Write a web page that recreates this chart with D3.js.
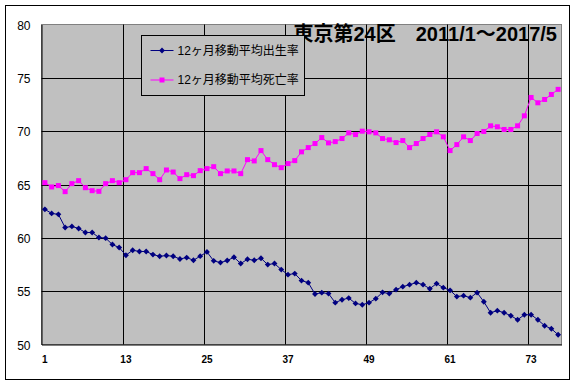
<!DOCTYPE html>
<html>
<head>
<meta charset="utf-8">
<script src="https://cdn.jsdelivr.net/npm/d3@7"></script>
<style>
  body { margin: 0; background: #fff; }
  svg text { font-family: "Liberation Sans", Arial, "Noto Sans CJK JP", sans-serif; }
</style>
</head>
<body>
<div id="chart"></div>
<script>
// months 1..77 (2011/1 - 2017/5)
var months = d3.range(1, 78);
var xTicks = [1, 13, 25, 37, 49, 61, 73];
var yTicks = [50, 55, 60, 65, 70, 75, 80];

var birthRate = [62.67, 62.29, 62.2, 60.97, 61.07, 60.88, 60.5, 60.5, 60.03, 59.97,
    59.37, 59.09, 58.37, 58.84, 58.72, 58.72, 58.43, 58.27, 58.34, 58.27,
    58.02, 58.15, 57.9, 58.28, 58.68, 57.84, 57.68, 57.87, 58.18, 57.59,
    57.99, 57.9, 58.09, 57.49, 57.59, 57.02, 56.55, 56.65, 55.99, 55.8,
    54.73, 54.86, 54.77, 53.92, 54.2, 54.35, 53.85, 53.73, 53.92, 54.3,
    54.89, 54.77, 55.14, 55.42, 55.61, 55.8, 55.61, 55.23, 55.71, 55.33,
    55.08, 54.49, 54.58, 54.39, 54.86, 54.01, 52.98, 53.17, 52.98, 52.7,
    52.32, 52.79, 52.79, 52.32, 51.76, 51.48, 50.91];

var deathRate = [65.17, 64.77, 64.9, 64.33, 65.08, 65.36, 64.7, 64.42, 64.36, 65.08,
    65.36, 65.17, 65.45, 66.11, 66.11, 66.49, 66.02, 65.45, 66.36, 66.17,
    65.55, 65.92, 65.83, 66.3, 66.49, 66.67, 66.02, 66.27, 66.27, 66.02,
    67.33, 67.21, 68.18, 67.33, 66.86, 66.58, 66.96, 67.24, 68.06, 68.46,
    68.84, 69.4, 68.9, 69.02, 69.31, 69.84, 69.68, 70.0, 69.94, 69.84,
    69.31, 69.19, 68.93, 69.12, 68.46, 68.84, 69.31, 69.69, 69.94, 69.47,
    68.18, 68.74, 69.47, 69.12, 69.78, 69.97, 70.5, 70.41, 70.16, 70.16,
    70.5, 71.44, 73.16, 72.66, 72.97, 73.44, 73.92];

var seriesNames = ["12ヶ月移動平均出生率", "12ヶ月移動平均死亡率"];
var seriesColors = ["#000080", "#FF00FF"];
var title = "東京第24区　2011/1～2017/5";

var W = 576, H = 385;
var plot = { left: 41.5, right: 561.5, top: 24.5, bottom: 344.5 };

var svg = d3.select("#chart").append("svg")
    .attr("width", W)
    .attr("height", H);

// outer frame
svg.append("rect")
    .attr("x", 5.5).attr("y", 5.5)
    .attr("width", 564).attr("height", 374)
    .attr("fill", "#fff")
    .attr("stroke", "#000");

var x = d3.scaleBand()
    .domain(months)
    .range([plot.left, plot.right])
    .padding(0);
var cx = function(i) { return x(i) + x.bandwidth() / 2; };

var y = d3.scaleLinear()
    .domain([50, 80])
    .range([plot.bottom, plot.top]);

// plot background
svg.append("rect")
    .attr("x", plot.left).attr("y", plot.top)
    .attr("width", plot.right - plot.left)
    .attr("height", plot.bottom - plot.top)
    .attr("fill", "#C0C0C0")
    .attr("stroke", "#808080");

// horizontal gridlines
svg.append("g").selectAll("line")
    .data(yTicks.slice(1, -1))
    .enter().append("line")
    .attr("x1", plot.left).attr("x2", plot.right)
    .attr("y1", function(d) { return Math.round(y(d)) + 0.5; })
    .attr("y2", function(d) { return Math.round(y(d)) + 0.5; })
    .attr("stroke", "#000");

// vertical gridlines at category boundaries
svg.append("g").selectAll("line")
    .data(xTicks.slice(1))
    .enter().append("line")
    .attr("x1", function(d) { return Math.round(x(d)) + 0.5; })
    .attr("x2", function(d) { return Math.round(x(d)) + 0.5; })
    .attr("y1", plot.top).attr("y2", plot.bottom)
    .attr("stroke", "#000");

// axes
var yAxis = svg.append("g")
    .attr("transform", "translate(" + plot.left + ",0)")
    .call(d3.axisLeft(y).tickValues(yTicks).tickSize(0).tickPadding(11));
yAxis.select(".domain").attr("stroke", "#000");
yAxis.selectAll("text").attr("font-size", 12).attr("fill", "#000").attr("dy", "0.4em");

var xAxis = svg.append("g")
    .attr("transform", "translate(0," + plot.bottom + ")")
    .call(d3.axisBottom(x).tickValues(xTicks).tickSize(0).tickPadding(11));
xAxis.select(".domain").attr("stroke", "#000");
xAxis.selectAll("text").attr("font-size", 10).attr("font-weight", "bold").attr("fill", "#000");

// series
var line = d3.line()
    .x(function(d, i) { return cx(months[i]); })
    .y(function(d) { return y(d); });

svg.append("path")
    .datum(birthRate)
    .attr("d", line)
    .attr("fill", "none")
    .attr("stroke", seriesColors[0])
    .attr("stroke-width", 1);

svg.append("path")
    .datum(deathRate)
    .attr("d", line)
    .attr("fill", "none")
    .attr("stroke", seriesColors[1])
    .attr("stroke-width", 1);

var diamond = d3.symbol().type(d3.symbolDiamond2).size(22);

svg.append("g").selectAll("path")
    .data(birthRate)
    .enter().append("path")
    .attr("d", diamond)
    .attr("transform", function(d, i) { return "translate(" + cx(months[i]) + "," + y(d) + ")"; })
    .attr("fill", seriesColors[0]);

svg.append("g").selectAll("rect")
    .data(deathRate)
    .enter().append("rect")
    .attr("x", function(d, i) { return cx(months[i]) - 2.5; })
    .attr("y", function(d) { return y(d) - 2.5; })
    .attr("width", 5).attr("height", 5)
    .attr("fill", seriesColors[1]);

// title
svg.append("text")
    .attr("x", 557)
    .attr("y", 40.5)
    .attr("text-anchor", "end")
    .attr("font-size", 20)
    .attr("font-weight", "bold")
    .attr("fill", "#000")
    .text(title);

// legend
var legend = svg.append("g").attr("transform", "translate(141.5,35.5)");
legend.append("rect")
    .attr("width", 163).attr("height", 60)
    .attr("fill", "#C0C0C0")
    .attr("stroke", "#000");

var item = legend.selectAll(".item")
    .data(seriesNames)
    .enter().append("g")
    .attr("class", "item")
    .attr("transform", function(d, i) { return "translate(0," + (15 + i * 29.5) + ")"; });

item.append("line")
    .attr("x1", 9).attr("x2", 32)
    .attr("stroke", function(d, i) { return seriesColors[i]; });

item.append("path")
    .filter(function(d, i) { return i === 0; })
    .attr("d", diamond)
    .attr("transform", "translate(20.5,0)")
    .attr("fill", seriesColors[0]);

item.filter(function(d, i) { return i === 1; })
    .append("rect")
    .attr("x", 18).attr("y", -2.5)
    .attr("width", 5).attr("height", 5)
    .attr("fill", seriesColors[1]);

item.append("text")
    .attr("x", 36)
    .attr("dy", "0.36em")
    .attr("font-size", 12)
    .attr("fill", "#000")
    .text(function(d) { return d; });
</script>
</body>
</html>
